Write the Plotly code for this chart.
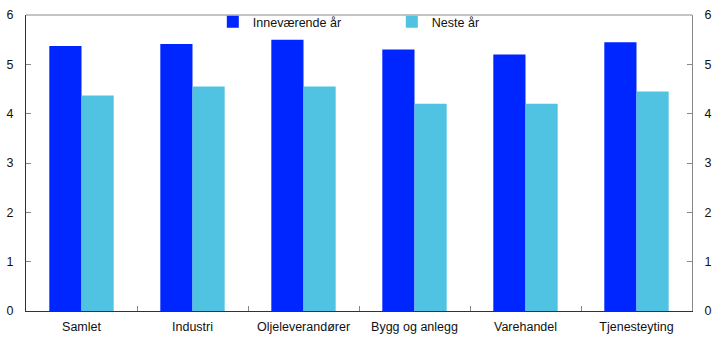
import plotly.graph_objects as go

categories = ["Samlet", "Industri", "Oljeleverandører", "Bygg og anlegg", "Varehandel", "Tjenesteyting"]
current_year = [5.37, 5.41, 5.5, 5.3, 5.2, 5.45]
next_year = [4.37, 4.55, 4.55, 4.2, 4.2, 4.45]
y_ticks = [0, 1, 2, 3, 4, 5, 6]

BLUE = "#0026ff"
LIGHT = "#50c3e2"
FONT = dict(family="Liberation Sans, Arial, sans-serif", size=12.5, color="#111111")

fig = go.Figure()
fig.add_trace(go.Bar(x=categories, y=current_year, name="Inneværende år",
                     marker=dict(color=BLUE, line=dict(width=0))))
fig.add_trace(go.Bar(x=categories, y=next_year, name="Neste år",
                     marker=dict(color=LIGHT, line=dict(width=0))))
fig.add_trace(go.Scatter(x=categories, y=current_year, yaxis="y2", mode="markers",
                         marker=dict(opacity=0), showlegend=False, hoverinfo="skip"))

fig.update_layout(
    width=722, height=361,
    margin=dict(l=26, r=30, t=15, b=50, autoexpand=False),
    plot_bgcolor="white", paper_bgcolor="white",
    font=FONT,
    barmode="group", bargap=0.42, bargroupgap=0,
    showlegend=True,
    legend=dict(orientation="h", x=0.2805, y=1 - 7 / 361, xanchor="left", yanchor="top",
                xref="paper", yref="container",
                bgcolor="rgba(0,0,0,0)", entrywidth=134, font=FONT,
                itemclick=False),
    xaxis=dict(showline=True, linecolor="#333333", linewidth=1, mirror=False,
               ticks="inside", tickson="boundaries", ticklen=5, tickcolor="#888888",
               showgrid=False, zeroline=False, automargin=False, ticklabelstandoff=4),
    yaxis=dict(range=[0, 6], tickvals=y_ticks, showline=True, linecolor="#333333",
               linewidth=1, ticks="inside", ticklen=5, tickcolor="#888888",
               showgrid=False, zeroline=False, ticklabelstandoff=9, automargin=False),
    yaxis2=dict(range=[0, 6], tickvals=y_ticks, overlaying="y", side="right",
                showline=True, linecolor="#888888", linewidth=1, ticks="inside",
                ticklen=5, tickcolor="#888888", showgrid=False, zeroline=False,
                ticklabelstandoff=9, automargin=False),
    shapes=[dict(type="line", xref="paper", yref="paper", x0=0, x1=1, y0=1, y1=1,
                 line=dict(color="#888888", width=1))],
)

fig.write_html("out.html")
